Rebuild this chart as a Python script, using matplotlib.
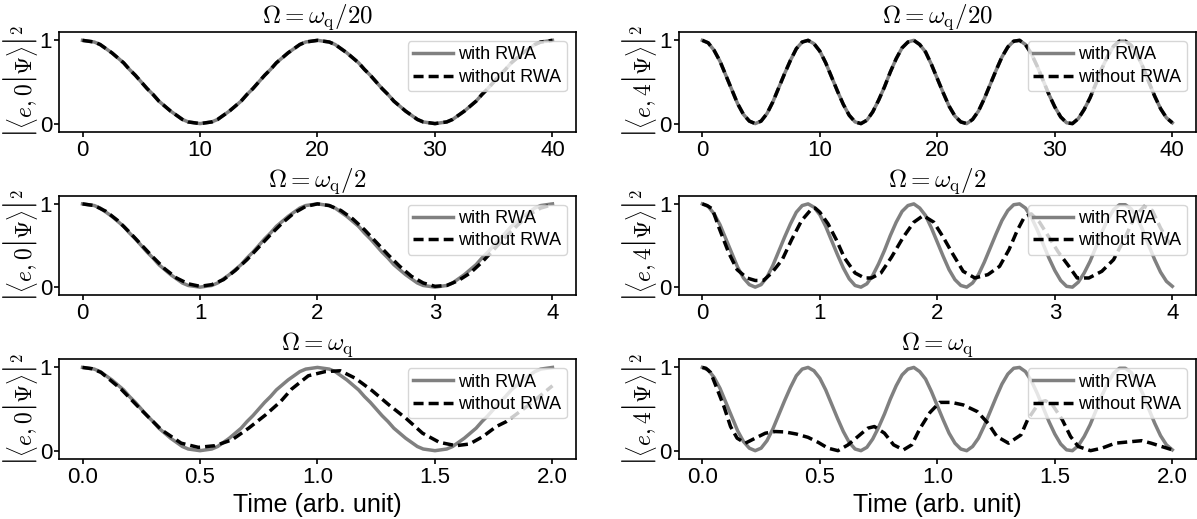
import numpy as np
import matplotlib
matplotlib.use("Agg")
import matplotlib.pyplot as plt

plt.rcParams["font.family"] = ["Liberation Sans", "DejaVu Sans"]
plt.rcParams["mathtext.fontset"] = "cm"

# time grids (one per row, same shape in units of the plotted span)
t_slow = np.linspace(0, 40, 81)
t_mid = np.linspace(0, 4, 81)
t_fast = np.linspace(0, 2, 81)
t_mid_coarse = np.linspace(0, 4, 41)

# |<e,0|psi>|^2 with RWA (same shape in every row)
rwa_e0 = [1.00, 0.99, 0.98, 0.95, 0.90, 0.85, 0.79, 0.73, 0.65, 0.58, 0.50,
          0.42, 0.35, 0.27, 0.21, 0.15, 0.10, 0.05, 0.02, 0.01, 0.00,
          0.01, 0.02, 0.05, 0.10, 0.15, 0.21, 0.27, 0.35, 0.42, 0.50,
          0.58, 0.65, 0.73, 0.79, 0.85, 0.90, 0.95, 0.98, 0.99, 1.00,
          0.99, 0.98, 0.95, 0.90, 0.85, 0.79, 0.73, 0.65, 0.58, 0.50,
          0.42, 0.35, 0.27, 0.21, 0.15, 0.10, 0.05, 0.02, 0.01, 0.00,
          0.01, 0.02, 0.05, 0.10, 0.15, 0.21, 0.27, 0.35, 0.42, 0.50,
          0.58, 0.65, 0.73, 0.79, 0.85, 0.90, 0.95, 0.98, 0.99, 1.00]

# |<e,4|psi>|^2 with RWA (same shape in every row)
rwa_e4 = [1.00, 0.97, 0.88, 0.75, 0.58, 0.41, 0.24, 0.11, 0.03, 0.00,
          0.03, 0.12, 0.26, 0.43, 0.60, 0.76, 0.90, 0.98, 1.00, 0.96,
          0.87, 0.73, 0.56, 0.39, 0.23, 0.10, 0.02, 0.00, 0.04, 0.14,
          0.28, 0.44, 0.62, 0.78, 0.91, 0.98, 1.00, 0.95, 0.86, 0.71,
          0.54, 0.37, 0.21, 0.09, 0.02, 0.00, 0.05, 0.15, 0.30, 0.47,
          0.64, 0.80, 0.92, 0.99, 1.00, 0.95, 0.84, 0.69, 0.52, 0.35,
          0.20, 0.08, 0.01, 0.00, 0.06, 0.17, 0.31, 0.48, 0.66, 0.81,
          0.93, 0.99, 0.99, 0.94, 0.83, 0.68, 0.50, 0.33, 0.18, 0.07,
          0.01]

# without RWA, Omega = wq/2, |<e,0|psi>|^2
full_e0_mid = [1.00, 0.98, 0.91, 0.80, 0.66, 0.51, 0.36, 0.22, 0.11, 0.04,
               0.01, 0.03, 0.09, 0.20, 0.33, 0.48, 0.63, 0.77, 0.89, 0.97,
               1.00, 0.98, 0.92, 0.82, 0.69, 0.54, 0.39, 0.25, 0.13, 0.05,
               0.01, 0.02, 0.08, 0.17, 0.30, 0.45, 0.60, 0.74, 0.87, 0.95,
               0.99]

# without RWA, Omega = wq/2, |<e,4|psi>|^2
t_e4_mid = [0.00, 0.04, 0.085, 0.14, 0.225, 0.296, 0.38, 0.45, 0.52, 0.59,
            0.68, 0.76, 0.845, 0.93, 0.96, 1.00, 1.07, 1.14, 1.21, 1.30,
            1.38, 1.44, 1.52, 1.61, 1.71, 1.80, 1.88, 1.97, 2.05, 2.135,
            2.22, 2.32, 2.43, 2.53, 2.61, 2.68, 2.74, 2.80, 2.87, 2.95,
            3.03, 3.12, 3.19, 3.29, 3.40, 3.50, 3.60, 3.68, 3.76, 3.83,
            3.90, 4.00]
full_e4_mid = [1.00, 0.98, 0.94, 0.72, 0.41, 0.21, 0.11, 0.08, 0.08, 0.17,
               0.33, 0.57, 0.80, 0.94, 0.95, 0.90, 0.76, 0.57, 0.35, 0.17,
               0.11, 0.11, 0.17, 0.36, 0.60, 0.78, 0.86, 0.78, 0.60, 0.39,
               0.19, 0.11, 0.15, 0.25, 0.45, 0.68, 0.84, 0.88, 0.78, 0.60,
               0.42, 0.25, 0.11, 0.11, 0.19, 0.33, 0.60, 0.85, 0.97, 0.92,
               0.71, 0.47]

# without RWA, Omega = wq, |<e,0|psi>|^2
t_e0_fast = [0.00, 0.04, 0.079, 0.164, 0.25, 0.336, 0.42, 0.493, 0.564, 0.636,
             0.707, 0.779, 0.843, 0.89, 0.961, 1.033, 1.097, 1.161, 1.233, 1.304,
             1.376, 1.447, 1.519, 1.59, 1.647, 1.704, 1.761, 1.804, 1.90, 2.00]
full_e0_fast = [1.00, 0.985, 0.94, 0.74, 0.49, 0.25, 0.09, 0.04, 0.06, 0.13,
                0.27, 0.43, 0.59, 0.74, 0.90, 0.95, 0.96, 0.87, 0.72, 0.55,
                0.39, 0.21, 0.10, 0.06, 0.08, 0.17, 0.29, 0.35, 0.55, 0.78]

# without RWA, Omega = wq, |<e,4|psi>|^2
t_e4_fast = [0.000, 0.015, 0.035, 0.063, 0.092, 0.12, 0.148, 0.183, 0.225, 0.268,
             0.31, 0.352, 0.40, 0.45, 0.493, 0.535, 0.577, 0.62, 0.662, 0.704,
             0.732, 0.775, 0.814, 0.856, 0.891, 0.927, 0.969, 1.01, 1.06, 1.11,
             1.17, 1.2155, 1.2535, 1.303, 1.356, 1.384, 1.434, 1.46, 1.49, 1.532,
             1.567, 1.60, 1.652, 1.70, 1.757, 1.83, 1.87, 1.91, 2.00]
full_e4_fast = [1.00, 0.99, 0.94, 0.74, 0.53, 0.29, 0.15, 0.09, 0.15, 0.21,
                0.23, 0.225, 0.20, 0.16, 0.10, 0.03, 0.00, 0.07, 0.17, 0.27,
                0.29, 0.21, 0.07, 0.01, 0.07, 0.27, 0.46, 0.58, 0.58, 0.55,
                0.47, 0.33, 0.17, 0.09, 0.19, 0.37, 0.58, 0.60, 0.55, 0.37,
                0.17, 0.05, 0.00, 0.03, 0.09, 0.11, 0.12, 0.09, 0.01]

titles = [r"$\Omega=\omega_{\rm q}/20$", r"$\Omega=\omega_{\rm q}/2$", r"$\Omega=\omega_{\rm q}$"]
xticks = [[0, 10, 20, 30, 40], [0, 1, 2, 3, 4], [0.0, 0.5, 1.0, 1.5, 2.0]]


def frac0(a, b):
    # fraction with an invisible rule, only used to make the brackets taller
    return r"\genfrac{}{}{0}{0}{" + a + "}{" + b + "}"


def bracket_label(n):
    f0 = r"\hspace{0}"
    f1 = frac0(f0, f0)
    f2 = frac0(f1, f1)
    strut = frac0(f2, f1) + r"\hspace{-0.42}"
    return (r"$\left|\left\langle e," + str(n) + strut + r"\right|\left.\Psi"
            + strut + r"\right\rangle\right|^2$")


def main():
    fig, axes = plt.subplots(3, 2, figsize=(11.97, 5.19), dpi=100)
    fig.subplots_adjust(left=0.0493, right=0.999, bottom=0.1156, top=0.9383,
                        wspace=0.199, hspace=0.637)

    curves = [
        [(t_slow, rwa_e0, t_slow, rwa_e0), (t_slow, rwa_e4, t_slow, rwa_e4)],
        [(t_mid, rwa_e0, t_mid_coarse, full_e0_mid), (t_mid, rwa_e4, t_e4_mid, full_e4_mid)],
        [(t_fast, rwa_e0, t_e0_fast, full_e0_fast), (t_fast, rwa_e4, t_e4_fast, full_e4_fast)],
    ]
    ylabels = [bracket_label(0), bracket_label(4)]

    for row in range(3):
        for col in range(2):
            ax = axes[row, col]
            tg, yg, td, yd = curves[row][col]
            ax.plot(tg, yg, color="grey", lw=2.5, label="with RWA")
            ax.plot(td, yd, color="k", ls="--", dashes=(2.9, 1.45), lw=2.5,
                    label="without RWA")
            ax.set_title(titles[row], fontsize=18)
            ax.set_ylabel(ylabels[col], fontsize=17, labelpad=0)
            ax.set_ylim(-0.1, 1.1)
            ax.set_yticks([0, 1])
            ax.set_xticks(xticks[row])
            ax.tick_params(labelsize=16, width=1.2, pad=2)
            ax.tick_params(axis="y", pad=1.5)
            for s in ax.spines.values():
                s.set_linewidth(1.2)
            ax.legend(loc="upper right", fontsize=13, handlelength=2.2,
                      handletextpad=0.3, borderpad=0.3, labelspacing=0.3)
            if row == 2:
                ax.set_xlabel("Time (arb. unit)", fontsize=18)

    fig.savefig("out.png", dpi=100)


if __name__ == "__main__":
    main()
